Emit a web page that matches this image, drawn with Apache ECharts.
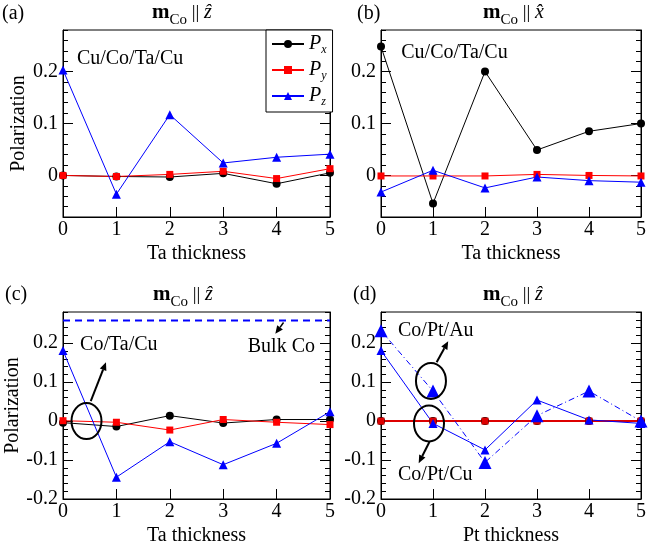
<!DOCTYPE html>
<html><head><meta charset="utf-8">
<script src="https://cdn.jsdelivr.net/npm/echarts@6/dist/echarts.min.js"></script>
<style>html,body{margin:0;padding:0;background:#fff}#c{width:649px;height:549px}</style>
</head><body><div id="c"></div>
<script>
// ---- data ----
const thickness = [0, 1, 2, 3, 4, 5];
const aPx = [0, -0.002, -0.003, 0.004, -0.016, 0.005];
const aPy = [0, -0.002, 0.002, 0.008, -0.006, 0.013];
const aPz = [0.203, -0.036, 0.117, 0.024, 0.035, 0.041];
const bPx = [0.248, -0.054, 0.2, 0.049, 0.085, 0.1];
const bPy = [-0.001, -0.001, -0.001, 0.002, 0, -0.001];
const bPz = [-0.032, 0.01, -0.024, -0.003, -0.01, -0.013];
const cPx = [-0.004, -0.014, 0.014, -0.005, 0.004, 0.004];
const cPy = [0.001, -0.003, -0.023, 0.004, -0.003, -0.009];
const cPz = [0.181, -0.144, -0.053, -0.112, -0.057, 0.024];
const bulkX = [0, 5];
const bulkCo = [0.258, 0.258];
const dPx = [0, 0, 0, 0, 0, 0];
const dPy = [0, 0, 0, 0, 0, 0];
const dPzCu = [0.181, -0.006, -0.074, 0.054, 0.003, -0.006];
const dPzAu = [0.232, 0.077, -0.106, 0.014, 0.077, 0];
const yLabelValuesTop = [0, 0.1, 0.2];
const yLabelValuesBottom = [-0.2, -0.1, 0, 0.1, 0.2];
const xNames = ['Ta thickness', 'Ta thickness', 'Ta thickness', 'Pt thickness'];
const panelLabels = ['(a)', '(b)', '(c)', '(d)'];

const FONT = 'Liberation Serif';
const pair = (xs, ys) => xs.map((x, i) => [x, ys[i]]);

const grids = [
  {left: 63, top: 30, width: 267, height: 187},
  {left: 381, top: 30, width: 265, height: 187},
  {left: 63, top: 312, width: 267, height: 187},
  {left: 381, top: 312, width: 265, height: 187}
].map(g => Object.assign(g, {show: true, borderColor: '#000', borderWidth: 1, backgroundColor: 'transparent'}));

const xAxis = [0, 1, 2, 3].map(i => ({
  gridIndex: i, type: 'value', min: 0, max: 5, interval: 1,
  axisLine: {show: true, onZero: false, lineStyle: {color: '#000', width: 1}},
  axisTick: {inside: true, length: 10, lineStyle: {color: '#000'}},
  axisLabel: {fontFamily: FONT, fontSize: 20, color: '#000', margin: 3},
  splitLine: {show: false},
  name: xNames[i], nameLocation: 'middle', nameGap: 27,
  nameTextStyle: {fontFamily: FONT, fontSize: 20, color: '#000'}
}));

const yRanges = [[-0.08, 0.28], [-0.08, 0.28], [-0.2, 0.28], [-0.2, 0.28]];
const yAxis = [];
const yIdx = [];
[0, 1, 2, 3].forEach(i => {
  const [mn, mx] = yRanges[i];
  const labs = i < 2 ? yLabelValuesTop : yLabelValuesBottom;
  const base = {gridIndex: i, type: 'value', min: mn, max: mx, splitLine: {show: false}};
  yIdx.push(yAxis.length);
  yAxis.push(Object.assign({}, base, {
    position: 'left', interval: 0.02,
    axisLine: {show: true, onZero: false, lineStyle: {color: '#000'}},
    axisTick: {inside: true, length: 5, lineStyle: {color: '#000'}},
    axisLabel: {fontFamily: FONT, fontSize: 20, color: '#000', margin: 5, showMinLabel: true, showMaxLabel: true,
      formatter: v => { const r = Math.round(v * 10); return Math.abs(v * 10 - r) < 1e-6 ? String(r / 10) : ''; }},
    name: (i === 0 || i === 2) ? 'Polarization' : '', nameLocation: 'middle', nameGap: 33, nameRotate: 90,
    nameTextStyle: {fontFamily: FONT, fontSize: 20, color: '#000'}
  }));
  yAxis.push(Object.assign({}, base, {
    position: 'left', interval: 0.02,
    axisLine: {show: false},
    axisTick: {inside: true, length: 10, customValues: labs, lineStyle: {color: '#000'}},
    axisLabel: {show: false}
  }));
  yAxis.push(Object.assign({}, base, {
    position: 'right', interval: 0.02,
    axisLine: {show: true, onZero: false, lineStyle: {color: '#000'}},
    axisTick: {inside: true, length: 5, lineStyle: {color: '#000'}},
    axisLabel: {show: false}
  }));
  yAxis.push(Object.assign({}, base, {
    position: 'right', interval: 0.02,
    axisLine: {show: false},
    axisTick: {inside: true, length: 10, customValues: labs, lineStyle: {color: '#000'}},
    axisLabel: {show: false}
  }));
});

function ser(name, gi, xs, ys, color, symbol, size, lineStyle) {
  return {
    name, type: 'line', xAxisIndex: gi, yAxisIndex: yIdx[gi], data: pair(xs, ys),
    symbol, symbolSize: size, clip: false, animation: false,
    itemStyle: {color}, lineStyle: Object.assign({color, width: 1}, lineStyle || {})
  };
}

const series = [
  ser('Px', 0, thickness, aPx, '#000', 'circle', 8),
  ser('Py', 0, thickness, aPy, '#f00', 'rect', 7),
  ser('Pz', 0, thickness, aPz, '#00f', 'triangle', 9),
  ser('b-Px', 1, thickness, bPx, '#000', 'circle', 8),
  ser('b-Py', 1, thickness, bPy, '#f00', 'rect', 7),
  ser('b-Pz', 1, thickness, bPz, '#00f', 'triangle', 9),
  ser('bulk', 2, bulkX, bulkCo, '#00f', 'none', 0, {width: 2, type: [7, 5]}),
  ser('c-Px', 2, thickness, cPx, '#000', 'circle', 8),
  ser('c-Py', 2, thickness, cPy, '#f00', 'rect', 7),
  ser('c-Pz', 2, thickness, cPz, '#00f', 'triangle', 9),
  ser('d-Px', 3, thickness, dPx, '#000', 'circle', 8),
  ser('d-Py', 3, thickness, dPy, '#d00', 'rect', 7, {width: 2}),
  ser('d-PzAu', 3, thickness, dPzAu, '#00f', 'triangle', 13, {type: [6, 3, 1, 3]}),
  ser('d-PzCu', 3, thickness, dPzCu, '#00f', 'triangle', 9)
];

const titleRich = {
  m: {fontFamily: FONT, fontSize: 21, fontWeight: 'bold', color: '#000', lineHeight: 30},
  c: {fontFamily: FONT, fontSize: 15, fontWeight: 'normal', color: '#000', lineHeight: 15, verticalAlign: 'bottom'},
  n: {fontFamily: FONT, fontSize: 19, fontWeight: 'normal', color: '#000', lineHeight: 30},
  z: {fontFamily: FONT, fontSize: 20, fontWeight: 'normal', fontStyle: 'italic', color: '#000', lineHeight: 30}
};
const titlePos = [[152, -2, 'ẑ'], [483, -2, 'x̂'], [153, 280, 'ẑ'], [483, 280, 'ẑ']];
const labelPos = [[2, 4], [357, 4], [5, 285], [353, 285]];
const title = [];
titlePos.forEach(([l, t, v]) => title.push({
  left: l, top: t, padding: 0,
  text: '{m|m}{c|Co}{n| || }{z|' + v + '}',
  textStyle: {fontWeight: 'normal', rich: titleRich}
}));
labelPos.forEach(([l, t], i) => title.push({
  left: l, top: t, padding: 0, text: panelLabels[i],
  textStyle: {fontFamily: FONT, fontSize: 20, fontWeight: 'normal', color: '#000'}
}));

const option = {
  animation: false,
  backgroundColor: '#fff',
  title, grid: grids, xAxis, yAxis, series,
  legend: {
    data: ['Px', 'Py', 'Pz'], orient: 'vertical', left: 266, top: 30,
    backgroundColor: '#fff', borderColor: '#000', borderWidth: 1, borderRadius: 0,
    padding: [4, 6, 4, 5], itemWidth: 32, itemHeight: 10, itemGap: 4,
    selectedMode: false,
    formatter: n => '{p|P}{s|' + n.charAt(1) + '}',
    textStyle: {
      rich: {
        p: {fontFamily: FONT, fontSize: 20, fontStyle: 'italic', color: '#000', lineHeight: 24},
        s: {fontFamily: FONT, fontSize: 12, fontStyle: 'italic', color: '#000', lineHeight: 12, verticalAlign: 'bottom'}
      }
    }
  }
};

const chart = echarts.init(document.getElementById('c'), null, {renderer: 'canvas'});
chart.setOption(option);

// ---- annotations (anchored in data coordinates) ----
const P = (si, x, y) => chart.convertToPixel({seriesIndex: si}, [x, y]);
const graphic = [];
function txt(si, x, y, s) {
  const p = P(si, x, y);
  graphic.push({type: 'text', x: p[0], y: p[1], z: 100,
    style: {text: s, fontFamily: FONT, fontSize: 20, fill: '#000', verticalAlign: 'middle', align: 'left'}});
}
function ell(si, x, y, rx, ry) {
  const p = P(si, x, y);
  graphic.push({type: 'ellipse', z: 100, shape: {cx: p[0], cy: p[1], rx, ry},
    style: {fill: 'none', stroke: '#000', lineWidth: 2}});
}
function arrow(si, x1, y1, x2, y2, lw) {
  const a = P(si, x1, y1), b = P(si, x2, y2);
  const dx = b[0] - a[0], dy = b[1] - a[1], L = Math.hypot(dx, dy);
  const ux = dx / L, uy = dy / L, hl = 8, hw = 3.5;
  const bx = b[0] - ux * hl, by = b[1] - uy * hl;
  graphic.push({type: 'line', z: 100, shape: {x1: a[0], y1: a[1], x2: bx, y2: by},
    style: {stroke: '#000', lineWidth: lw || 2}});
  graphic.push({type: 'polygon', z: 100, shape: {points: [[b[0], b[1]], [bx - uy * hw, by + ux * hw], [bx + uy * hw, by - ux * hw]]},
    style: {fill: '#000'}});
}
txt(0, 0.26, 0.225, 'Cu/Co/Ta/Cu');
txt(3, 0.39, 0.237, 'Cu/Co/Ta/Cu');
txt(7, 0.32, 0.196, 'Co/Ta/Cu');
ell(7, 0.44, 0.0, 15, 18);
arrow(7, 0.52, 0.051, 0.805, 0.151);
txt(7, 3.46, 0.191, 'Bulk Co');
arrow(7, 4.13, 0.253, 3.976, 0.224, 1.5);
txt(10, 0.327, 0.232, 'Co/Pt/Au');
ell(10, 0.961, 0.103, 15, 18);
arrow(10, 1.07, 0.151, 1.292, 0.205);
ell(10, 0.923, -0.006, 15, 18);
arrow(10, 0.933, -0.053, 0.725, -0.108);
txt(10, 0.327, -0.138, 'Co/Pt/Cu');
chart.setOption({graphic});
</script></body></html>
